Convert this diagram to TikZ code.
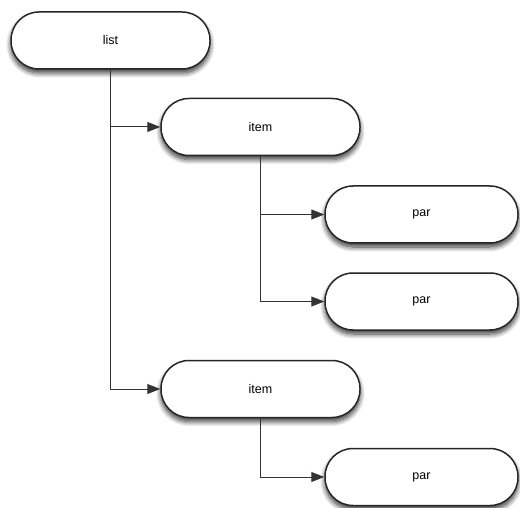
\documentclass[tikz,border=0pt]{standalone}
\usepackage{fontspec}
\setmainfont{Liberation Sans}
\usetikzlibrary{arrows.meta,shadows.blur}
\begin{document}
\begin{tikzpicture}[x=1pt,y=1pt,
  pill/.style={draw=black!85, line width=1.5pt, fill=white, rectangle,
    rounded corners=28pt, minimum height=57pt, inner sep=0pt,
    font=\fontsize{12.5}{14}\selectfont,
    blur shadow={shadow xshift=0pt, shadow yshift=-4pt, shadow opacity=80, shadow blur steps=10, shadow blur radius=5pt}},
  wide/.style={pill, minimum width=199pt},
  narrow/.style={pill, minimum width=193pt},
  link/.style={draw=black!80, line width=1pt, -{Triangle[length=13pt,width=10pt]}}]
\useasboundingbox (0,0) rectangle (520,-508);
\node[wide] (list) at (110.5,-40.5) {list};
\node[wide] (item1) at (260.5,-127) {item};
\node[narrow] (par1) at (421.5,-214.5) {par};
\node[narrow] (par2) at (421.5,-301.5) {par};
\node[wide] (item2) at (260.5,-389) {item};
\node[narrow] (par3) at (421.5,-477) {par};
\draw[link] (list.south) |- (item1.west);
\draw[link] (list.south) |- (item2.west);
\draw[link] (item1.south) |- (par1.west);
\draw[link] (item1.south) |- (par2.west);
\draw[link] (item2.south) |- (par3.west);
\end{tikzpicture}
\end{document}
